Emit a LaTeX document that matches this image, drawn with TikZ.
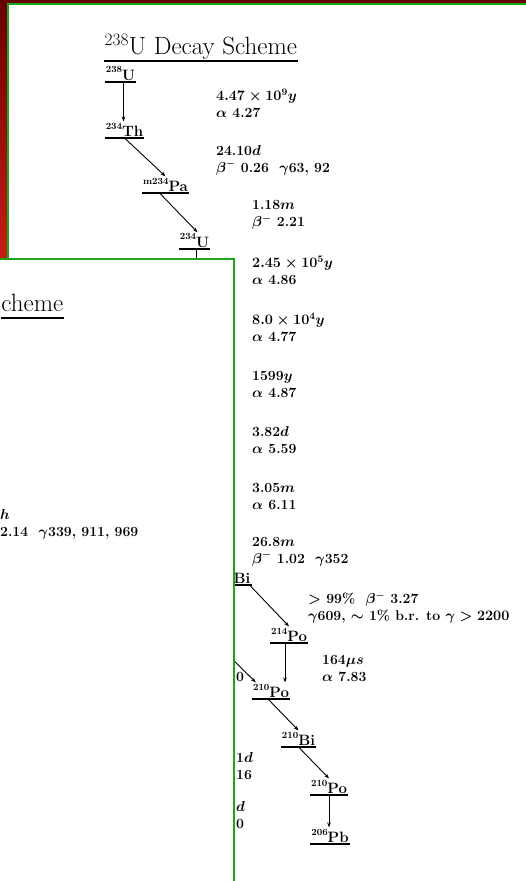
\documentclass[tikz,border=0pt]{standalone}
\usepackage{tikz}
\usetikzlibrary{arrows.meta}
\definecolor{pagegreen}{RGB}{30,165,30}
\definecolor{bgdark}{RGB}{105,0,0}
\definecolor{bgred}{RGB}{200,30,20}
\newcommand{\nuc}[2]{\raisebox{0.5em}{\fontsize{9.5}{10}\selectfont #1}#2}
\newcommand{\nucfont}{\fontsize{15}{17}\selectfont\bfseries}
\newcommand{\infofont}{\fontsize{14}{17}\selectfont\bfseries\boldmath}

\begin{document}
\begin{tikzpicture}[x=1pt, y=-1pt,
  page/.style={fill=white, draw=pagegreen, line width=1.8pt},
  heading/.style={font=\fontsize{25}{29}\selectfont, inner xsep=0.5pt, inner ysep=1.5pt, text depth=4.5pt},
  nuclide/.style={font=\nucfont, anchor=south, inner xsep=1pt, inner ysep=1.2pt},
  info/.style={font=\infofont, anchor=west, align=left, inner sep=0pt},
  decay/.style={-{Stealth[length=5pt, width=3.6pt]}, line width=0.9pt}
]
\useasboundingbox (0,0) rectangle (526,881);
\clip (0,0) rectangle (526,881);
\fill[bgred] (0,0) rectangle (526,881);
\shade[top color=bgdark, bottom color=bgred] (0,0) rectangle (526,262);

% back page
\draw[page] (8,4) rectangle (560,900);
\node[heading, anchor=south west] (title) at (104,61) {$^{238}$U Decay Scheme};

\node[nuclide] (u238)  at (120.5,82) {\nuc{238}{U}};
\node[nuclide] (th234) at (124.5,138) {\nuc{234}{Th}};
\node[nuclide] (pa234) at (165.5,193) {\nuc{m234}{Pa}};
\node[nuclide] (u234)  at (194.5,249) {\nuc{234}{U}};
\node[nuclide] (bi214) at (242,585) {Bi};
\node[nuclide] (po214) at (289,643) {\nuc{214}{Po}};
\node[nuclide] (pb210) at (271,699) {\nuc{210}{Po}};
\node[nuclide] (bi210) at (298.5,747) {\nuc{210}{Bi}};
\node[nuclide] (po210) at (329,795) {\nuc{210}{Po}};
\node[nuclide] (pb206) at (330,844) {\nuc{206}{Pb}};
\foreach \n in {title,u238,th234,pa234,u234,bi214,po214,pb210,bi210,po210,pb206}
  \draw[line width=1.3pt] (\n.south west) -- (\n.south east);

\coordinate (th230) at (196,320);
\coordinate (tl210) at (215,642);
\draw[decay] ([xshift=3pt]u238.south) -- ([xshift=3pt]u238.south |- th234.north);
\draw[decay] (th234.south) -- (pa234.north);
\draw[decay] ([xshift=-6pt]pa234.south) -- ([xshift=3pt]u234.north);
\draw[decay] ([xshift=2pt]u234.south) -- ([xshift=2pt]u234.south |- th230);
\draw[decay] ([xshift=-2pt]bi214.south east) -- (po214.north);
\draw[decay] ([xshift=-4pt]po214.south) -- ([xshift=-4pt]po214.south |- pb210.north);
\draw[decay] (tl210) -- ([xshift=4pt]pb210.north west);
\draw[decay] ([xshift=-3pt]pb210.south) -- (bi210.north);
\draw[decay] (bi210.south) -- (po210.north);
\draw[decay] (po210) -- (po210 |- pb206.north);

% half-lives and energies
\node[info] (t1)  at (216,103.5) {$4.47\times10^{9}y$\\$\alpha$ 4.27};
\node[info] (t2)  at (216,160)   {24.10$d$\\$\beta^-$ 0.26\ \ $\gamma$63, 92};
\node[info] (t3)  at (252,215)   {1.18$m$\\$\beta^-$ 2.21};
\node[info] (t4)  at (252,270.5) {$2.45\times10^{5}y$\\$\alpha$ 4.86};
\node[info] (t5)  at (252,327)   {$8.0\times10^{4}y$\\$\alpha$ 4.77};
\node[info] (t6)  at (252,384)   {1599$y$\\$\alpha$ 4.87};
\node[info] (t7)  at (252,440)   {3.82$d$\\$\alpha$ 5.59};
\node[info] (t8)  at (252,496.5) {3.05$m$\\$\alpha$ 6.11};
\node[info] (t9)  at (252,551.5) {26.8$m$\\$\beta^-$ 1.02\ \ $\gamma$352};
\node[info] (t10) at (308,608)   {$>$ 99\%\ \ $\beta^-$ 3.27\\$\gamma$609, $\sim$ 1\% b.r. to $\gamma > 2200$};
\node[info] (t11) at (322,668.5) {164$\mu s$\\$\alpha$ 7.83};
\node[info] (f1)  at (236,677)   {0};
\node[info] (f2)  at (236,766)   {1$d$\\16};
\node[info] (f3)  at (236,815)   {$d$\\0};

% front page
\draw[page] (-20,259) rectangle (234,900);
\node[heading, anchor=south east] (title2) at (64,318) {cheme};
\draw[line width=1.3pt] (title2.south west) -- (title2.south east);
\node[info] (t12) at (0,524.5) {$h$\\2.14\ \ $\gamma$339, 911, 969};
\end{tikzpicture}
\end{document}
